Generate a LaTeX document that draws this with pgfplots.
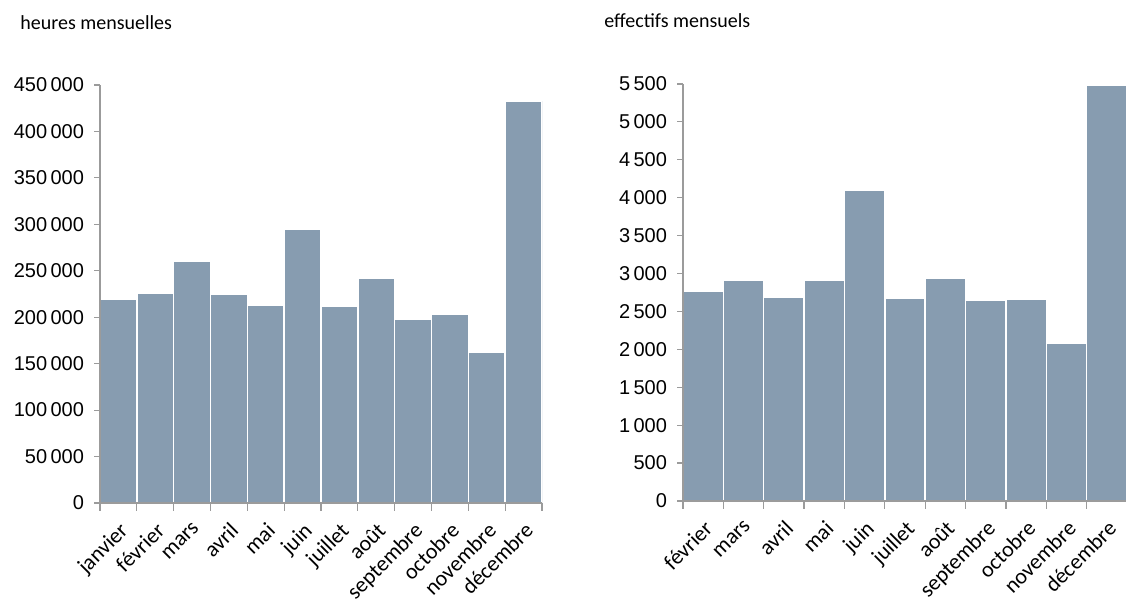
\documentclass[border=0pt]{standalone}
\usepackage{fontspec}
\setmainfont{Carlito}
\newfontfamily\tickfont{Liberation Sans}
\usepackage{pgfplots}
\pgfplotsset{compat=1.18}
\definecolor{barcol}{RGB}{135,156,176}
\definecolor{axcol}{RGB}{155,155,155}
\pgfplotsset{mybars/.style={
  scale only axis,
  axis lines*=left,
  axis line style={axcol, line width=0.7pt},
  axis on top,
  ymin=0,
  tick align=outside,
  tick style={axcol, line width=0.6pt},
  major tick length=3pt,
  minor tick length=4pt,
  major x tick style={draw=none},
  scaled y ticks=false,
  /pgf/number format/fixed,
  /pgf/number format/assume math mode=true,
  /pgf/number format/1000 sep={\,},
  yticklabel style={font=\tickfont\fontsize{10}{12}\selectfont, xshift=-1.5pt},
  xticklabel style={yshift=-4.5pt, rotate=45, anchor=north east, font=\fontsize{11}{12}\selectfont, inner sep=1pt},
}}
\begin{document}
\begin{tikzpicture}
\useasboundingbox (0,0) rectangle (563pt,301.5pt);
\node[anchor=base west, font=\fontsize{10}{12}\selectfont, inner sep=0pt] at (10pt,286.5pt) {heures mensuelles};
\node[anchor=base west, font=\fontsize{10}{12}\selectfont, inner sep=0pt] at (302pt,287.5pt) {effectifs mensuels};
\begin{axis}[mybars, at={(50pt,50pt)}, anchor=south west, width=221pt, height=209pt,
  xmin=0, xmax=12, ymax=450000, ytick={0,50000,...,450000},
  xtick={0.5,1.5,...,11.5}, minor xtick={0,1,...,12},
  xticklabels={janvier,février,mars,avril,mai,juin,juillet,août,septembre,octobre,novembre,décembre}]
\addplot[ybar, bar width=1, fill=barcol, draw=white, line width=0.75pt] coordinates {
(0.5,218900) (1.5,226100) (2.5,259900) (3.5,225000) (4.5,212800) (5.5,294500)
(6.5,211700) (7.5,241600) (8.5,197300) (9.5,203000) (10.5,162700) (11.5,432700)};
\end{axis}
\begin{axis}[mybars, at={(341.5pt,51pt)}, anchor=south west, width=222pt, height=208.5pt,
  xmin=0, xmax=11, ymax=5500, ytick={0,500,...,5500},
  xtick={0.5,1.5,...,10.5}, minor xtick={0,1,...,11},
  xticklabels={février,mars,avril,mai,juin,juillet,août,septembre,octobre,novembre,décembre}]
\addplot[ybar, bar width=1, fill=barcol, draw=white, line width=0.75pt] coordinates {
(0.5,2763) (1.5,2908) (2.5,2693) (3.5,2908) (4.5,4101) (5.5,2675)
(6.5,2939) (7.5,2644) (8.5,2662) (9.5,2081) (10.5,5487)};
\end{axis}
\end{tikzpicture}
\end{document}
